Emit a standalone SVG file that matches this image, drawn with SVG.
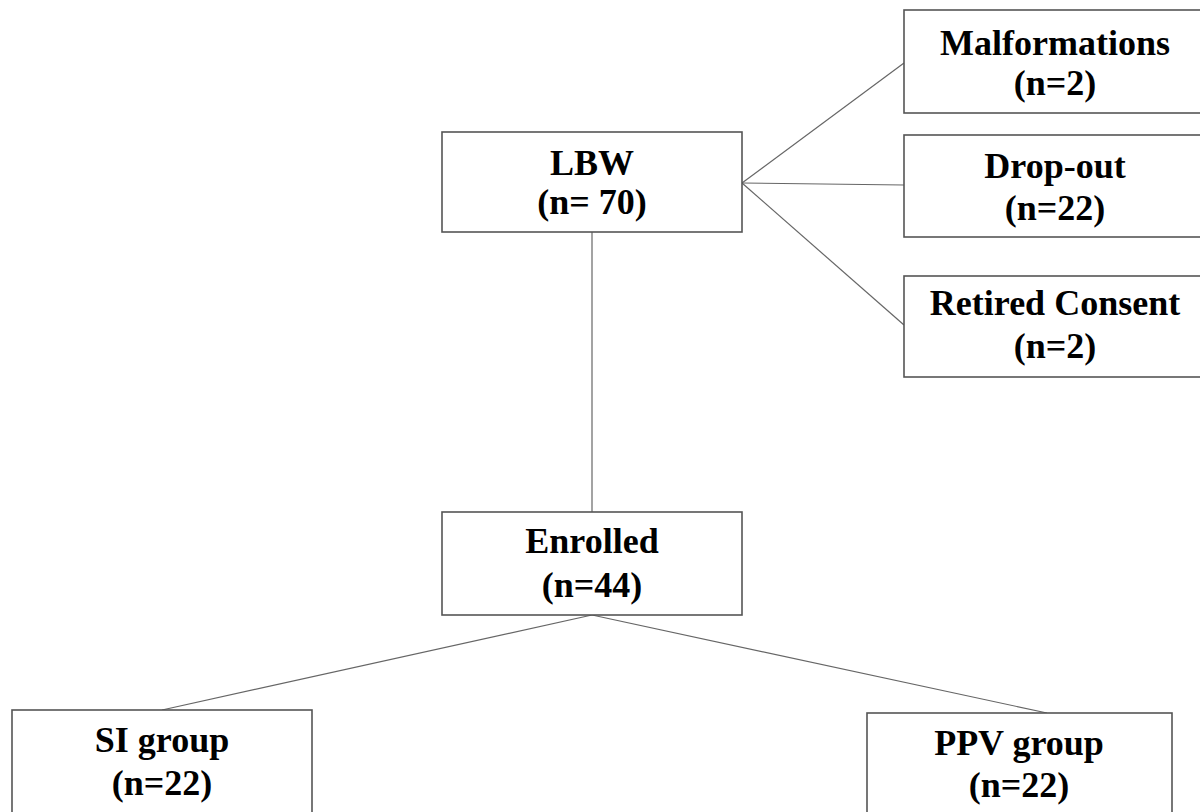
<svg xmlns="http://www.w3.org/2000/svg" width="1200" height="812" viewBox="0 0 1200 812">
<style>
.box{fill:#fff;stroke:#555;stroke-width:1.6}
.t{font-family:"Liberation Serif","Times New Roman",serif;font-weight:bold;font-size:36px;fill:#000;text-anchor:middle}
.c{stroke:#666;stroke-width:1.2;fill:none}
</style>
<rect width="1200" height="812" fill="#fff"/>
<g id="connectors">
<line class="c" x1="592" y1="232" x2="592" y2="512"/>
<line class="c" x1="742" y1="183" x2="904" y2="63"/>
<line class="c" x1="742" y1="183" x2="904" y2="185"/>
<line class="c" x1="742" y1="183" x2="904" y2="325"/>
<line class="c" x1="592" y1="615" x2="162" y2="710"/>
<line class="c" x1="592" y1="615" x2="1047" y2="713"/>
</g>
<g id="lbw">
<rect class="box" x="442" y="132" width="300" height="100"/>
<text class="t" x="592" y="175">LBW</text>
<text class="t" x="592" y="214">(n= 70)</text>
</g>
<g id="malformations">
<rect class="box" x="904" y="10" width="300" height="103"/>
<text class="t" x="1055" y="55">Malformations</text>
<text class="t" x="1055" y="95">(n=2)</text>
</g>
<g id="dropout">
<rect class="box" x="904" y="135" width="300" height="102"/>
<text class="t" x="1055" y="178">Drop-out</text>
<text class="t" x="1055" y="220">(n=22)</text>
</g>
<g id="retired">
<rect class="box" x="904" y="276" width="300" height="101"/>
<text class="t" x="1055" y="315">Retired Consent</text>
<text class="t" x="1055" y="358">(n=2)</text>
</g>
<g id="enrolled">
<rect class="box" x="442" y="512" width="300" height="103"/>
<text class="t" x="592" y="553">Enrolled</text>
<text class="t" x="592" y="597">(n=44)</text>
</g>
<g id="si">
<rect class="box" x="12" y="710" width="300" height="110"/>
<text class="t" x="162" y="752">SI group</text>
<text class="t" x="162" y="795">(n=22)</text>
</g>
<g id="ppv">
<rect class="box" x="867" y="713" width="305" height="110"/>
<text class="t" x="1019" y="755">PPV group</text>
<text class="t" x="1019" y="797">(n=22)</text>
</g>
</svg>
